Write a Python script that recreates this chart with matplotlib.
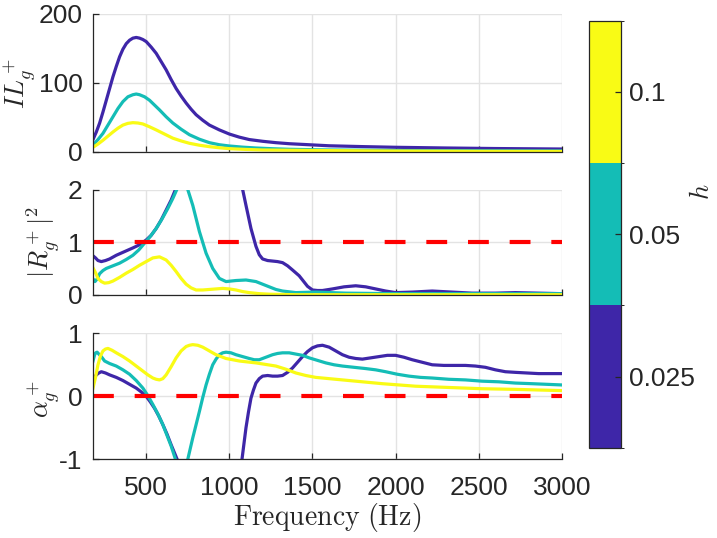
import matplotlib
matplotlib.use('Agg')
import matplotlib.pyplot as plt
from matplotlib.colors import ListedColormap, BoundaryNorm
import matplotlib.cm as cm

plt.rcParams['font.family'] = ['Liberation Sans', 'DejaVu Sans']
plt.rcParams['mathtext.fontset'] = 'cm'

# ---------------- data ----------------
h_values = ['0.025', '0.05', '0.1']
colors = ['#3E26A8', '#14BDB6', '#F9FB15']

xticks = [500, 1000, 1500, 2000, 2500, 3000]

# IL_g^+
il_f_blue = [180, 200, 220, 240, 260, 280, 300, 320, 340, 360, 380, 400, 420, 440, 460, 480,
             500, 530, 560, 590, 620, 650, 680, 710, 740, 770, 800, 840, 880, 940,
             1000, 1060, 1120, 1200, 1280, 1360, 1440, 1600, 1800, 2000, 2300, 2600, 3000]
il_blue = [18, 29, 42, 58, 75, 92, 109, 124, 138, 149, 157, 162, 165, 166, 165, 163,
           160, 152, 143, 131, 119, 105, 92, 81, 71, 62, 54, 46, 39, 32,
           26, 21.5, 18, 15.5, 13.5, 12, 11, 9, 7.8, 6.8, 5.8, 5, 4.3]
il_f_teal = [180, 210, 240, 270, 300, 330, 360, 390, 420, 440, 460, 490, 520, 550, 580, 620,
             660, 710, 760, 820, 880, 940, 1000, 1080, 1160, 1260, 1360, 1600, 2000, 2500, 3000]
il_teal = [10, 18, 27, 39, 51, 63, 73, 80, 83, 84, 83, 80, 75, 68, 61, 51,
           42, 33, 25, 18.5, 13.5, 10.5, 8.7, 7, 5.8, 4.7, 3.9, 2.9, 2.2, 1.8, 1.5]
il_f_yellow = [180, 210, 240, 270, 300, 330, 360, 390, 420, 450, 480, 520, 560, 610, 660,
               710, 760, 820, 880, 940, 1000, 1100, 1200, 1600, 2000, 2500, 3000]
il_yellow = [6.8, 11.5, 17, 23, 29, 34.5, 39, 41.5, 42.5, 42, 40.6, 36.5, 32, 26, 20,
             16, 12.6, 9.8, 7.7, 6.1, 4.8, 3.7, 2.9, 2.0, 1.4, 1.0, 0.8]

# |R_g^+|^2
r_f_blue = [180, 195, 210, 230, 255, 280, 320, 370, 420, 460, 500, 530, 560, 590, 620, 650,
            676, 700, 750, 800, 850, 900, 950, 1000, 1050, 1080, 1100, 1130, 1160, 1180,
            1200, 1230, 1260, 1290, 1320, 1350, 1380, 1420, 1440, 1470, 1500, 1530, 1560,
            1620, 1690, 1760, 1820, 1880, 1940, 2000, 2100, 2220, 2340, 2460, 2600, 2720,
            2860, 3000]
r_blue = [0.74, 0.70, 0.65, 0.63, 0.65, 0.68, 0.75, 0.82, 0.89, 0.95, 1.04, 1.13, 1.26,
          1.42, 1.61, 1.8, 2.0, 2.3, 3.2, 4.2, 5.0, 5.3, 5.0, 4.0, 2.6, 2.0, 1.70, 1.26,
          0.92, 0.76, 0.68, 0.65, 0.64, 0.63, 0.61, 0.55, 0.47, 0.36, 0.28, 0.16, 0.09,
          0.08, 0.08, 0.11, 0.15, 0.17, 0.15, 0.11, 0.07, 0.04, 0.05, 0.07, 0.05, 0.03,
          0.03, 0.04, 0.03, 0.02]
r_f_teal = [180, 192, 205, 220, 240, 260, 300, 340, 380, 420, 455, 490, 525, 560, 595, 630,
            660, 684, 700, 715, 730, 750, 780, 820, 860, 900, 940, 980, 1040, 1100, 1160,
            1200, 1240, 1280, 1320, 1400, 1520, 1700, 2000, 2500, 3000]
r_teal = [0.30, 0.25, 0.30, 0.40, 0.46, 0.50, 0.55, 0.60, 0.67, 0.75, 0.85, 0.98, 1.11,
          1.26, 1.44, 1.64, 1.83, 2.0, 2.25, 2.35, 2.25, 2.0, 1.70, 1.20, 0.79, 0.50, 0.31,
          0.25, 0.27, 0.28, 0.25, 0.20, 0.15, 0.10, 0.07, 0.04, 0.05, 0.03, 0.02, 0.02, 0.02]
r_f_yellow = [180, 195, 210, 230, 250, 275, 300, 340, 380, 420, 460, 500, 540, 580, 620,
              650, 680, 710, 740, 770, 800, 840, 880, 920, 960, 1000, 1040, 1080, 1120,
              1180, 1240, 1400, 1600, 2000, 2500, 3000]
r_yellow = [0.51, 0.42, 0.31, 0.25, 0.22, 0.23, 0.26, 0.33, 0.41, 0.48, 0.56, 0.63, 0.70,
            0.72, 0.66, 0.56, 0.44, 0.31, 0.20, 0.13, 0.09, 0.09, 0.10, 0.11, 0.12, 0.11,
            0.09, 0.06, 0.04, 0.02, 0.01, 0.0, 0.0, 0.0, 0.0, 0.0]

# alpha_g^+
a_f_blue = [180, 200, 215, 230, 255, 280, 320, 360, 400, 440, 470, 500, 525, 550, 575, 600,
            625, 650, 686, 720, 800, 900, 1000, 1076, 1100, 1115, 1130, 1145, 1160, 1180,
            1200, 1230, 1260, 1290, 1320, 1350, 1380, 1410, 1440, 1470, 1500, 1530, 1560,
            1600, 1640, 1680, 1720, 1760, 1800, 1850, 1900, 1950, 2000, 2050, 2100, 2160,
            2220, 2290, 2360, 2420, 2480, 2540, 2600, 2660, 2720, 2790, 2860, 3000]
a_blue = [0.26, 0.34, 0.37, 0.39, 0.37, 0.34, 0.30, 0.25, 0.19, 0.13, 0.07, 0.0, -0.09,
          -0.19, -0.31, -0.45, -0.60, -0.77, -1.0, -1.3, -2.0, -2.3, -2.0, -1.0, -0.50,
          -0.25, -0.03, 0.10, 0.21, 0.28, 0.32, 0.33, 0.32, 0.32, 0.33, 0.38, 0.45, 0.54,
          0.63, 0.71, 0.77, 0.80, 0.81, 0.78, 0.72, 0.66, 0.62, 0.60, 0.59, 0.61, 0.63,
          0.65, 0.65, 0.62, 0.58, 0.54, 0.50, 0.49, 0.49, 0.49, 0.48, 0.46, 0.42, 0.39,
          0.38, 0.37, 0.36, 0.36]
a_f_teal = [180, 190, 196, 205, 215, 230, 250, 280, 320, 360, 400, 440, 480, 510, 540, 570,
            600, 625, 650, 676, 700, 715, 730, 750, 780, 800, 820, 840, 860, 880, 900, 920,
            940, 960, 980, 1010, 1040, 1080, 1120, 1150, 1180, 1220, 1260, 1290, 1320, 1360,
            1400, 1440, 1480, 1530, 1580, 1630, 1680, 1750, 1820, 1880, 1940, 2010, 2080,
            2150, 2220, 2320, 2420, 2520, 2620, 2720, 2820, 2910, 3000]
a_teal = [0.56, 0.66, 0.69, 0.70, 0.67, 0.63, 0.56, 0.52, 0.48, 0.42, 0.35, 0.25, 0.13,
          0.01, -0.13, -0.28, -0.45, -0.62, -0.79, -1.0, -1.2, -1.25, -1.2, -1.0, -0.66,
          -0.45, -0.24, -0.02, 0.18, 0.35, 0.50, 0.59, 0.66, 0.69, 0.70, 0.69, 0.66, 0.63,
          0.60, 0.58, 0.58, 0.62, 0.66, 0.68, 0.69, 0.69, 0.67, 0.65, 0.61, 0.57, 0.53,
          0.50, 0.48, 0.46, 0.44, 0.42, 0.39, 0.35, 0.32, 0.30, 0.29, 0.27, 0.26, 0.24,
          0.23, 0.21, 0.20, 0.19, 0.18]
a_f_yellow = [180, 195, 210, 225, 240, 255, 270, 295, 320, 360, 400, 440, 480, 510, 540, 560,
              580, 600, 620, 650, 680, 710, 740, 760, 780, 810, 840, 880, 920, 980, 1060,
              1160, 1280, 1340, 1400, 1460, 1520, 1600, 1720, 1920, 2120, 2320, 2520, 2720,
              3000]
a_yellow = [0.13, 0.30, 0.50, 0.64, 0.72, 0.75, 0.76, 0.73, 0.69, 0.63, 0.56, 0.48, 0.40,
            0.34, 0.29, 0.27, 0.26, 0.28, 0.34, 0.47, 0.61, 0.72, 0.79, 0.81, 0.82, 0.81,
            0.78, 0.72, 0.66, 0.60, 0.56, 0.53, 0.48, 0.43, 0.37, 0.33, 0.30, 0.28, 0.25,
            0.20, 0.16, 0.14, 0.12, 0.11, 0.09]

r_ref = 1
a_ref = 0

# ---------------- figure ----------------
fig = plt.figure(figsize=(7.17, 5.38), dpi=100)
ax1 = fig.add_axes([0.1297, 0.7175, 0.654, 0.2565])
ax2 = fig.add_axes([0.1297, 0.4522, 0.654, 0.1955])
ax3 = fig.add_axes([0.1297, 0.1463, 0.654, 0.2342])

TC = '#262626'
FS = 19
LW = 2.3

panels = [
    (ax1, [(il_f_blue, il_blue), (il_f_teal, il_teal), (il_f_yellow, il_yellow)],
     (0, 200), [0, 100, 200], r'$IL_g^+$', None, (-0.118, 0.5)),
    (ax2, [(r_f_blue, r_blue), (r_f_teal, r_teal), (r_f_yellow, r_yellow)],
     (0, 2), [0, 1, 2], r'$|R_g^+|^2$', r_ref, (-0.066, 0.5)),
    (ax3, [(a_f_blue, a_blue), (a_f_teal, a_teal), (a_f_yellow, a_yellow)],
     (-1, 1), [-1, 0, 1], r'$\alpha_g^+$', a_ref, (-0.066, 0.48)),
]

for ax, series, ylim, yt, lab, ref, lc in panels:
    for (f, v), c in zip(series, colors):
        ax.plot(f, v, color=c, lw=LW, solid_joinstyle='round')
    if ref is not None:
        ax.plot([180, 3000], [ref, ref], color='#FF0000', lw=3.0, ls=(0, (5, 5)))
    ax.set_xlim(180, 3000)
    ax.set_ylim(*ylim)
    ax.set_yticks(yt)
    ax.set_xticks(xticks)
    ax.set_yticklabels(['%g' % t for t in yt])
    ax.grid(True, color='#E3E3E3', lw=1.0)
    ax.set_axisbelow(True)
    for s in ['top', 'right']:
        ax.spines[s].set_visible(False)
    for s in ['left', 'bottom']:
        ax.spines[s].set_color(TC)
        ax.spines[s].set_linewidth(0.9)
    ax.tick_params(direction='in', length=4, width=0.9, colors=TC, labelsize=FS)
    ax.tick_params(axis='y', pad=7.5)
    ax.tick_params(axis='x', pad=12)
    ax.set_ylabel(lab, fontsize=FS, color=TC)
    ax.yaxis.set_label_coords(*lc)

ax1.tick_params(axis='x', labelbottom=False)
ax2.tick_params(axis='x', labelbottom=False)
ax3.set_xticklabels(['%d' % t for t in xticks])
ax3.set_xlabel(r'$\mathrm{Frequency\ (Hz)}$', fontsize=20, color=TC, labelpad=1)

# colorbar
cax = fig.add_axes([0.8215, 0.1678, 0.0446, 0.7937])
cmap = ListedColormap(colors)
norm = BoundaryNorm([0, 1, 2, 3], 3)
cb = fig.colorbar(cm.ScalarMappable(norm=norm, cmap=cmap), cax=cax, ticks=[0.5, 1.5, 2.5])
cb.set_ticklabels(h_values)
cb.ax.tick_params(direction='in', length=4, width=0.9, colors=TC, labelsize=FS, pad=6)
cb.outline.set_linewidth(0.9)
cb.outline.set_edgecolor(TC)
cb.set_label(r'$h$', fontsize=FS, color=TC)
cb.ax.yaxis.set_label_coords(3.15, 0.6)

fig.savefig('out.png', dpi=100)
